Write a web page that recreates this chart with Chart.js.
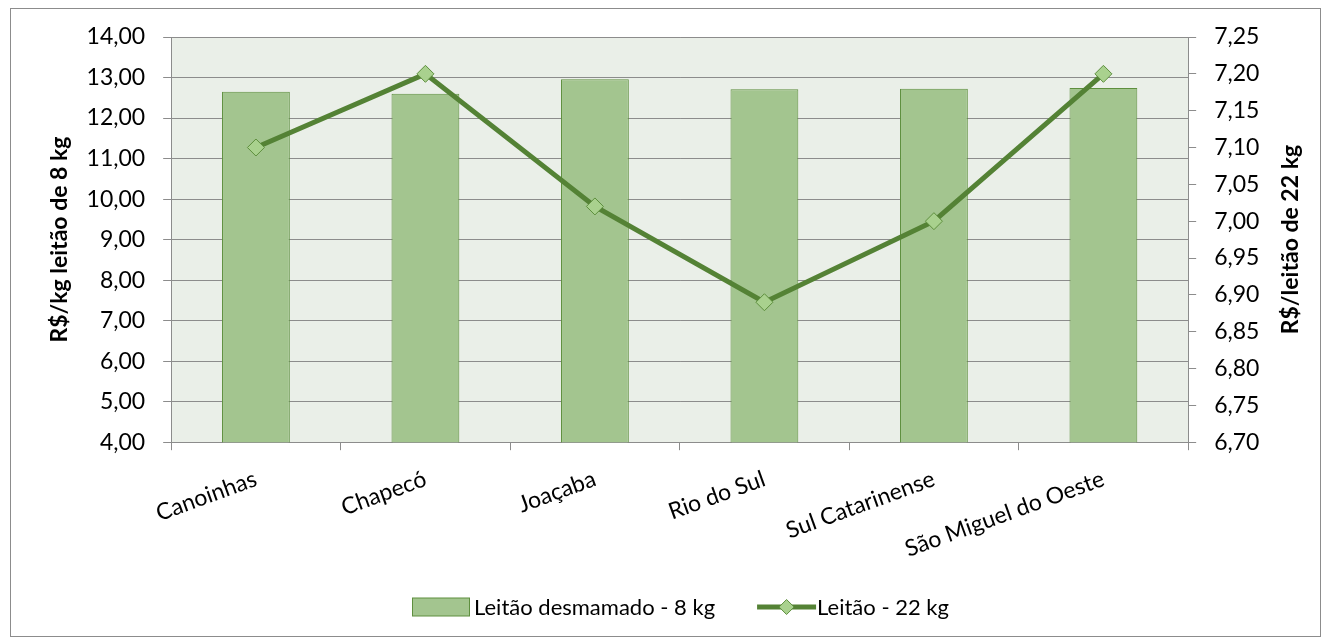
<!DOCTYPE html>
<html>
<head>
<meta charset="utf-8">
<script src="https://cdn.jsdelivr.net/npm/chart.js@4/dist/chart.umd.min.js"></script>
<style>
  html, body { margin: 0; padding: 0; background: #fff; }
  .frame { position: absolute; left: 10px; top: 8px; width: 1311px; height: 629px; border: 1px solid #8c8c8c; box-sizing: border-box; }
  #chart { position: absolute; left: 0; top: 0; display: block; }
</style>
</head>
<body>
<div class="frame"></div>
<canvas id="chart" width="1322" height="639"></canvas>
<script>
// praças
const categories = ['Canoinhas', 'Chapecó', 'Joaçaba', 'Rio do Sul', 'Sul Catarinense', 'São Miguel do Oeste'];
// R$/kg leitão desmamado de 8 kg (eixo esquerdo)
const leitao8 = [12.65, 12.60, 12.96, 12.71, 12.72, 12.74];
// R$/leitão de 22 kg (eixo direito)
const leitao22 = [7.10, 7.20, 7.02, 6.89, 7.00, 7.20];

const barFill = '#a3c58f';
const barLine = '#5e8f3e';
const lineColor = '#548235';
const markerFill = '#a9d18e';
const fontFamily = 'Lato, "Liberation Sans", sans-serif';
const rightTitle = 'R$/leitão de 22 kg';

const plotBg = {
  id: 'plotBg',
  beforeDraw(chart) {
    const a = chart.chartArea;
    chart.ctx.save();
    chart.ctx.fillStyle = '#eaefe8';
    chart.ctx.fillRect(a.left, a.top, a.right - a.left, a.bottom - a.top);
    chart.ctx.restore();
  }
};

// right axis title reads bottom-to-top in the original; chart.js only keeps its space
const rightTitlePlugin = {
  id: 'rightTitle',
  afterDraw(chart) {
    const ctx = chart.ctx;
    const s = chart.scales.y2;
    const a = chart.chartArea;
    ctx.save();
    ctx.translate(s.right - 4 - 13.8, (a.top + a.bottom) / 2);
    ctx.rotate(-Math.PI / 2);
    ctx.font = 'bold 23px ' + fontFamily;
    ctx.fillStyle = '#000';
    ctx.textAlign = 'center';
    ctx.textBaseline = 'middle';
    ctx.fillText(rightTitle, 0, 0);
    ctx.restore();
  }
};

// legend drawn by hand, Excel style (box / line+diamond right next to the text)
const excelLegend = {
  id: 'excelLegend',
  afterDraw(chart) {
    const ctx = chart.ctx;
    const a = chart.chartArea;
    const y = 607;
    ctx.save();
    ctx.font = '22px ' + fontFamily;
    ctx.textBaseline = 'middle';
    const t1 = chart.data.datasets[1].label;
    const t2 = chart.data.datasets[0].label;
    const w1 = ctx.measureText(t1).width;
    const w2 = ctx.measureText(t2).width;
    const total = 58 + 4 + w1 + 42 + 59 + 1 + w2;
    let x = Math.round((a.left + a.right) / 2 + 1 - total / 2);
    // bar item
    ctx.fillStyle = barFill;
    ctx.fillRect(x + 0.5, y - 9, 57, 18);
    ctx.strokeStyle = barLine;
    ctx.lineWidth = 1;
    ctx.strokeRect(x + 0.5, y - 9, 57, 18);
    ctx.fillStyle = '#000';
    ctx.fillText(t1, x + 62, y + 1);
    x += 62 + w1 + 42;
    // line item
    ctx.strokeStyle = lineColor;
    ctx.lineWidth = 5;
    ctx.beginPath(); ctx.moveTo(x, y); ctx.lineTo(x + 59, y); ctx.stroke();
    const m = x + 29.5;
    ctx.beginPath();
    ctx.moveTo(m, y - 7.5); ctx.lineTo(m + 7.5, y); ctx.lineTo(m, y + 7.5); ctx.lineTo(m - 7.5, y); ctx.closePath();
    ctx.fillStyle = markerFill; ctx.fill();
    ctx.strokeStyle = barLine; ctx.lineWidth = 1; ctx.stroke();
    ctx.fillStyle = '#000';
    ctx.fillText(t2, x + 60, y + 1);
    ctx.restore();
  }
};

const fmt = (d) => (v) => v.toFixed(d).replace('.', ',');

new Chart(document.getElementById('chart'), {
  data: {
    labels: categories,
    datasets: [
      {
        type: 'line',
        label: 'Leitão - 22 kg',
        data: leitao22,
        yAxisID: 'y2',
        borderColor: lineColor,
        borderWidth: 5,
        pointStyle: 'rectRot',
        pointRadius: 8.5,
        pointBackgroundColor: markerFill,
        pointBorderColor: barLine,
        pointBorderWidth: 1,
        order: 0
      },
      {
        type: 'bar',
        label: 'Leitão desmamado - 8 kg',
        data: leitao8,
        yAxisID: 'y',
        backgroundColor: barFill,
        borderColor: barLine,
        borderWidth: 1,
        categoryPercentage: 0.4,
        barPercentage: 1,
        order: 1
      }
    ]
  },
  options: {
    responsive: false,
    animation: false,
    layout: { padding: { top: 37, right: 14, left: 42, bottom: 61 } },
    plugins: {
      title: { display: false },
      tooltip: { enabled: false },
      legend: { display: false }
    },
    scales: {
      x: {
        grid: { display: true, drawOnChartArea: false, color: '#8c8c8c', tickLength: 8, offset: true },
        border: { color: '#8c8c8c' },
        ticks: { color: '#000', font: { family: fontFamily, size: 23 }, minRotation: 20, maxRotation: 20, padding: 15 },
        // rotated labels may hang past the plot edge, like in Excel
        afterFit(scale) { scale.paddingLeft = 0; scale.paddingRight = 0; }
      },
      y: {
        position: 'left',
        min: 4, max: 14,
        grid: { color: '#8c8c8c', tickLength: 8 },
        border: { color: '#8c8c8c' },
        ticks: { stepSize: 1, color: '#000', font: { family: fontFamily, size: 23 }, callback: fmt(2), padding: 18 },
        title: { display: true, text: 'R$/kg leitão de 8 kg', color: '#000', padding: { top: 4, bottom: -5 }, font: { family: fontFamily, size: 23, weight: 'bold' } }
      },
      y2: {
        position: 'right',
        min: 6.7, max: 7.25,
        grid: { drawOnChartArea: false, color: '#8c8c8c', tickLength: 8 },
        border: { color: '#8c8c8c' },
        ticks: { stepSize: 0.05, color: '#000', font: { family: fontFamily, size: 23 }, callback: fmt(2), padding: 18 },
        title: { display: true, text: rightTitle, color: 'rgba(0,0,0,0)', padding: { top: 4, bottom: -1 }, font: { family: fontFamily, size: 23, weight: 'bold' } }
      }
    }
  },
  plugins: [plotBg, rightTitlePlugin, excelLegend]
});
</script>
</body>
</html>
